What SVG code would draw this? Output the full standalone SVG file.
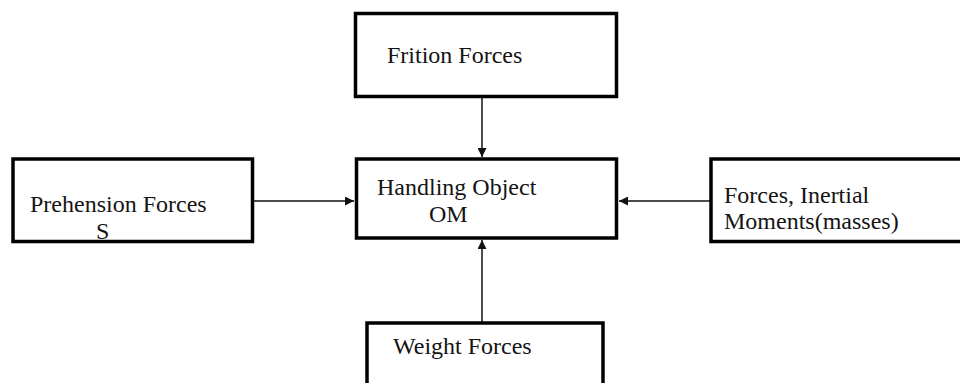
<svg xmlns="http://www.w3.org/2000/svg" width="960" height="383" viewBox="0 0 960 383">
  <style>
    .box { fill: #ffffff; stroke: #000000; stroke-width: 3.5; }
    .lbl { font-family: 'Liberation Serif', 'Times New Roman', Times, serif; font-size: 24px; fill: #141414; }
    .conn { stroke: #111111; stroke-width: 1.5; fill: none; marker-end: url(#arr); }
  </style>
  <defs>
    <marker id="arr" viewBox="0 0 10 10" refX="10" refY="5" markerWidth="9" markerHeight="9" markerUnits="userSpaceOnUse" orient="auto">
      <path d="M0,0 L10,5 L0,10 Z" fill="#111111"/>
    </marker>
  </defs>
  <rect width="960" height="383" fill="#ffffff"/>
  <g id="connectors">
    <line class="conn" x1="482" y1="97" x2="482" y2="157"/>
    <line class="conn" x1="253" y1="201" x2="354" y2="201"/>
    <line class="conn" x1="710" y1="201" x2="619" y2="201"/>
    <line class="conn" x1="482" y1="323" x2="482" y2="240"/>
  </g>
  <g id="friction">
    <rect class="box" x="355.5" y="13.5" width="261" height="83"/>
    <text class="lbl" x="387" y="63">Frition Forces</text>
  </g>
  <g id="prehension">
    <rect class="box" x="13" y="159" width="239.5" height="82.5"/>
    <text class="lbl" x="30" y="211.5">Prehension Forces</text>
    <text class="lbl" x="96" y="238.5">S</text>
  </g>
  <g id="handling">
    <rect class="box" x="356.5" y="159" width="260" height="79"/>
    <text class="lbl" x="377" y="194.5">Handling Object</text>
    <text class="lbl" x="429" y="221.5">OM</text>
  </g>
  <g id="inertial">
    <rect class="box" x="711" y="159" width="270" height="82.5"/>
    <text class="lbl" x="724" y="202.5">Forces, Inertial</text>
    <text class="lbl" x="724" y="229">Moments(masses)</text>
  </g>
  <g id="weight">
    <rect class="box" x="367" y="323" width="236" height="80"/>
    <text class="lbl" x="393" y="354">Weight Forces</text>
  </g>
</svg>
